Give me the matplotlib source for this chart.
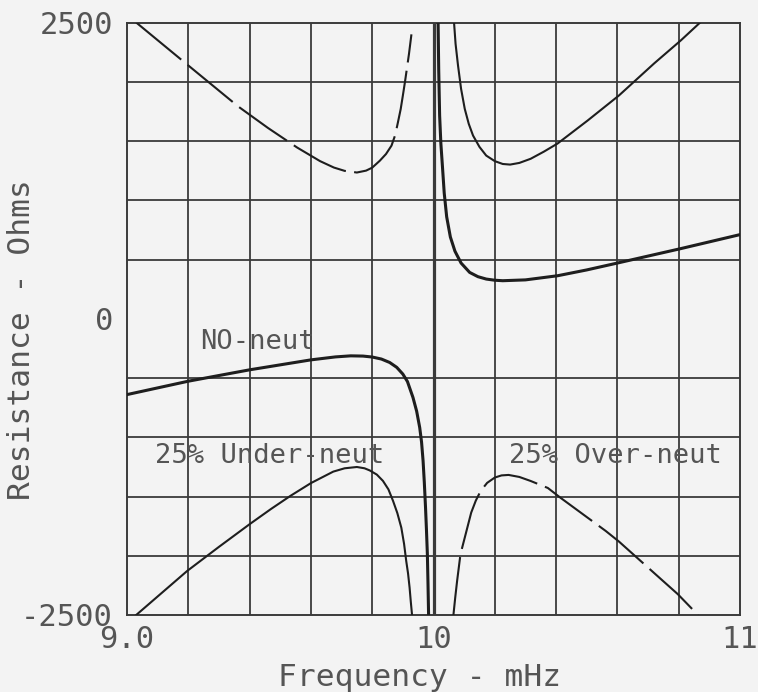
import matplotlib.pyplot as plt
import numpy as np

# values (frequency in mHz, resistance in ohms)
no_neut_left_f = [9.0, 9.2, 9.4, 9.6, 9.68, 9.73, 9.77, 9.80, 9.83, 9.857, 9.88, 9.9, 9.915,
                  9.933, 9.945, 9.955, 9.961, 9.966, 9.970, 9.974, 9.977, 9.98, 9.982, 9.984]
no_neut_left_r = [-640, -527, -431, -347, -322, -313, -315, -323, -340, -369, -410, -467, -530,
                  -664, -780, -918, -1040, -1199, -1380, -1594, -1780, -1987, -2230, -2500]
no_neut_right_f = [10.015, 10.017, 10.02, 10.024, 10.029, 10.035, 10.043, 10.055, 10.07, 10.09,
                   10.118, 10.145, 10.172, 10.2, 10.226, 10.3, 10.405, 10.5, 10.605, 10.807, 11.0]
no_neut_right_r = [2500, 2100, 1715, 1480, 1292, 1060, 860, 690, 570, 470,
                   391, 355, 335, 325, 321, 328, 363, 412, 473, 592, 710]

under_left_f = [9.03, 9.196, 9.30, 9.402, 9.47, 9.533, 9.6, 9.673, 9.71, 9.75, 9.775, 9.792, 9.815,
                9.835, 9.853, 9.868, 9.882, 9.895, 9.904, 9.911, 9.917, 9.922, 9.926, 9.93]
under_left_r = [-2500, -2129, -1925, -1730, -1605, -1495, -1387, -1290, -1262, -1251, -1262, -1280,
                -1315, -1368, -1440, -1537, -1640, -1763, -1900, -2044, -2150, -2269, -2390, -2500]
under_right_f = [10.067, 10.072, 10.08, 10.09, 10.102, 10.115, 10.129, 10.15, 10.172, 10.2, 10.226,
                 10.25, 10.28, 10.317, 10.36, 10.405, 10.503, 10.605, 10.72, 10.807, 10.87]
under_right_r = [2500, 2320, 2137, 1940, 1771, 1645, 1546, 1450, 1377, 1330, 1306,
                 1301, 1315, 1350, 1410, 1479, 1673, 1884, 2155, 2349, 2500]

over_left_f = [9.03, 9.18, 9.363, 9.46, 9.555, 9.63, 9.675, 9.71, 9.75, 9.78, 9.80, 9.825, 9.845,
               9.863, 9.875, 9.884, 9.893, 9.9, 9.907, 9.913, 9.92, 9.928]
over_left_r = [2500, 2180, 1791, 1610, 1445, 1330, 1276, 1248, 1234, 1250, 1275, 1334, 1390,
               1461, 1550, 1658, 1770, 1883, 2000, 2108, 2235, 2400]
over_right_f = [10.065, 10.071, 10.077, 10.088, 10.102, 10.123, 10.138, 10.154, 10.175, 10.2, 10.222,
                10.245, 10.28, 10.317, 10.373, 10.415, 10.562, 10.605, 10.742, 10.797, 10.863]
over_right_r = [-2500, -2350, -2213, -1987, -1847, -1636, -1535, -1453, -1385, -1340, -1322,
                -1318, -1335, -1369, -1428, -1512, -1791, -1880, -2197, -2324, -2500]

x_ticks = [9.0, 10.0, 11.0]
x_tick_labels = ["9.0", "10", "11"]
y_ticks = [-2500, 0, 2500]
y_tick_labels = ["-2500", "0", "2500"]

labels = ["NO-neut", "25% Under-neut", "25% Over-neut"]
label_f = [9.239, 9.091, 10.245]
label_r = [-253, -1216, -1216]

bg = "#f3f3f3"
ink = "#1e1e1e"
grid_c = "#3a3a3a"
txt_c = "#555555"
mono = "DejaVu Sans Mono"

fig = plt.figure(figsize=(7.58, 6.92), dpi=100, facecolor=bg)
ax = fig.add_axes([127 / 758, 1 - 615 / 692, 613 / 758, 592.5 / 692], facecolor=bg)
ax.set_xlim(9.0, 11.0)
ax.set_ylim(-2500, 2500)

# grid
ax.set_xticks(np.arange(9.0, 11.01, 0.2), minor=True)
ax.set_yticks(np.arange(-2500, 2501, 500), minor=True)
ax.grid(which="minor", color=grid_c, lw=1.3)
ax.axvline(10.0, color=grid_c, lw=2.3, zorder=2)
for s in ax.spines.values():
    s.set_color(grid_c)
    s.set_linewidth(1.4)

ax.set_xticks(x_ticks, labels=x_tick_labels)
ax.set_yticks(y_ticks, labels=y_tick_labels)
ax.tick_params(which="both", length=0)
ax.tick_params(axis="x", pad=7)
ax.tick_params(axis="y", pad=10)
for t in ax.get_xticklabels() + ax.get_yticklabels():
    t.set_fontfamily(mono)
    t.set_fontsize(22)
    t.set_color(txt_c)

# curves
kw = dict(color=ink, zorder=4, solid_joinstyle="round", dash_joinstyle="round")
ax.plot(no_neut_left_f, no_neut_left_r, lw=2.2, **kw)
ax.plot(no_neut_right_f, no_neut_right_r, lw=2.2, **kw)
ax.plot(under_left_f, under_left_r, lw=1.5, **kw)
ax.plot(under_right_f, under_right_r, lw=1.5, **kw)
ax.plot(over_left_f, over_left_r, lw=1.5, ls=(0, (28, 4)), **kw)
ax.plot(over_right_f, over_right_r, lw=1.5, ls=(0, (28, 4)), **kw)

for s, f, r in zip(labels, label_f, label_r):
    ax.text(f, r, s, family=mono, fontsize=19.5, color=txt_c, va="baseline", ha="left", zorder=5)

fig.text(420 / 758, 1 - 678 / 692, "Frequency - mHz", family=mono, fontsize=22.5,
         color=txt_c, ha="center", va="center")
fig.text(22 / 758, 1 - 340 / 692, "Resistance - Ohms", family=mono, fontsize=22.5,
         color=txt_c, ha="center", va="center", rotation=90)

fig.savefig("out.png", dpi=100, facecolor=bg)
